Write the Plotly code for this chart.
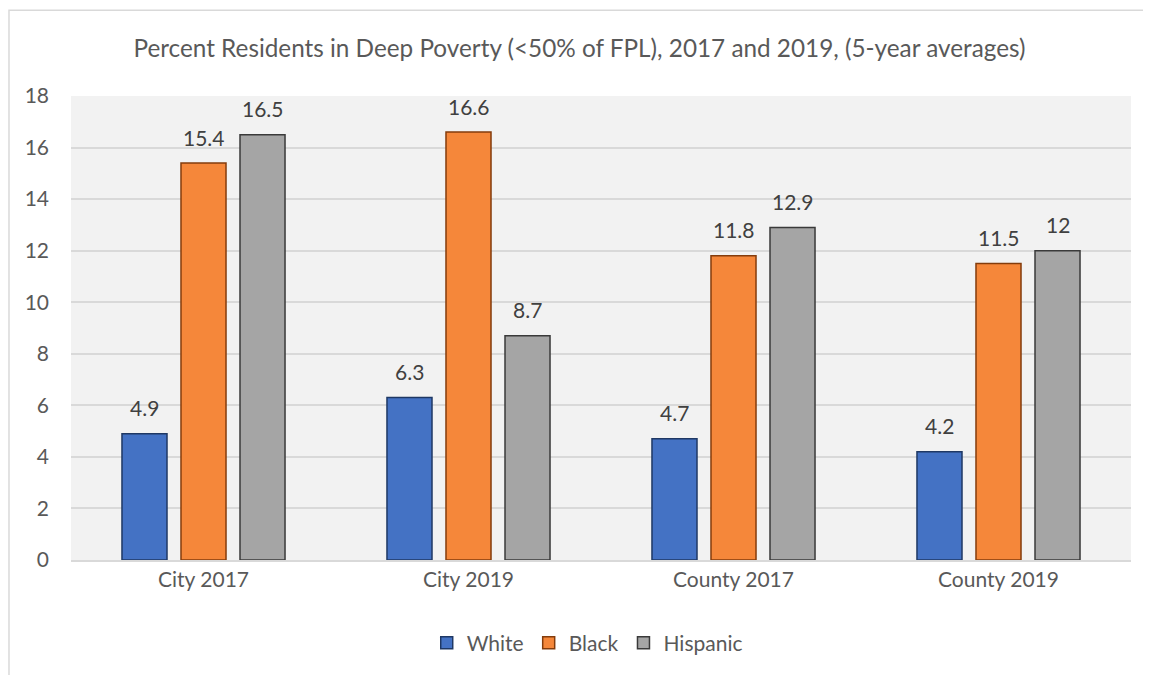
import plotly.graph_objects as go

categories = ["City 2017", "City 2019", "County 2017", "County 2019"]
white = [4.9, 6.3, 4.7, 4.2]
black = [15.4, 16.6, 11.8, 11.5]
hispanic = [16.5, 8.7, 12.9, 12]
series_names = ["White", "Black", "Hispanic"]
y_ticks = [0, 2, 4, 6, 8, 10, 12, 14, 16, 18]

colors = ["#4472C4", "#F5873A", "#A5A5A5"]
edges = ["#1F3864", "#843C0C", "#3A3A3A"]
FONT = "Lato"

fig = go.Figure()
series = [white, black, hispanic]
for i, (name, vals, c, e) in enumerate(zip(series_names, series, colors, edges)):
    fig.add_trace(go.Bar(
        x=categories, y=vals, name=name,
        marker=dict(color=c, line=dict(color=e, width=1.5)),
    ))
    for cat, v in zip(categories, vals):
        fig.add_annotation(x=cat, y=v, xref="x", yref="y", text=f"{v:g}",
                           showarrow=False, xshift=(i - 1) * 59, yshift=26,
                           yanchor="middle", xanchor="center",
                           font=dict(size=21, color="#404040", family=FONT))

fig.update_layout(
    width=1143, height=667,
    paper_bgcolor="white", plot_bgcolor="#F2F2F2",
    margin=dict(l=63, r=20, t=88, b=115),
    barmode="group", bargap=0.332, bargroupgap=0.237,
    font=dict(family=FONT, color="#595959", size=21),
    title=dict(text="Percent Residents in Deep Poverty (<50% of FPL), 2017 and 2019, (5-year averages)",
               x=0.5, xanchor="center", y=1 - 40 / 667, yanchor="middle",
               font=dict(size=24.3, color="#595959", family=FONT)),
    legend=dict(orientation="h", x=0.487, xanchor="center", y=-0.179, yanchor="middle",
                font=dict(size=21, color="#595959"), traceorder="normal", itemwidth=30),
    showlegend=True,
)
fig.update_yaxes(range=[0, 18], tickvals=y_ticks, showgrid=True, gridcolor="#D9D9D9",
                 gridwidth=1.5, zeroline=False, showline=False, ticks="",
                 tickfont=dict(size=21, color="#595959"), ticklabelstandoff=21)
fig.update_xaxes(showline=True, linecolor="#D9D9D9", linewidth=1.5, ticks="",
                 tickfont=dict(size=21, color="#595959"))

fig.add_shape(type="rect", xref="paper", yref="paper",
              x0=-0.0585, x1=1.03, y0=-0.3, y1=1.185,
              line=dict(color="#D9D9D9", width=1.5), fillcolor="rgba(0,0,0,0)", layer="below")

fig.write_html("out.html")
